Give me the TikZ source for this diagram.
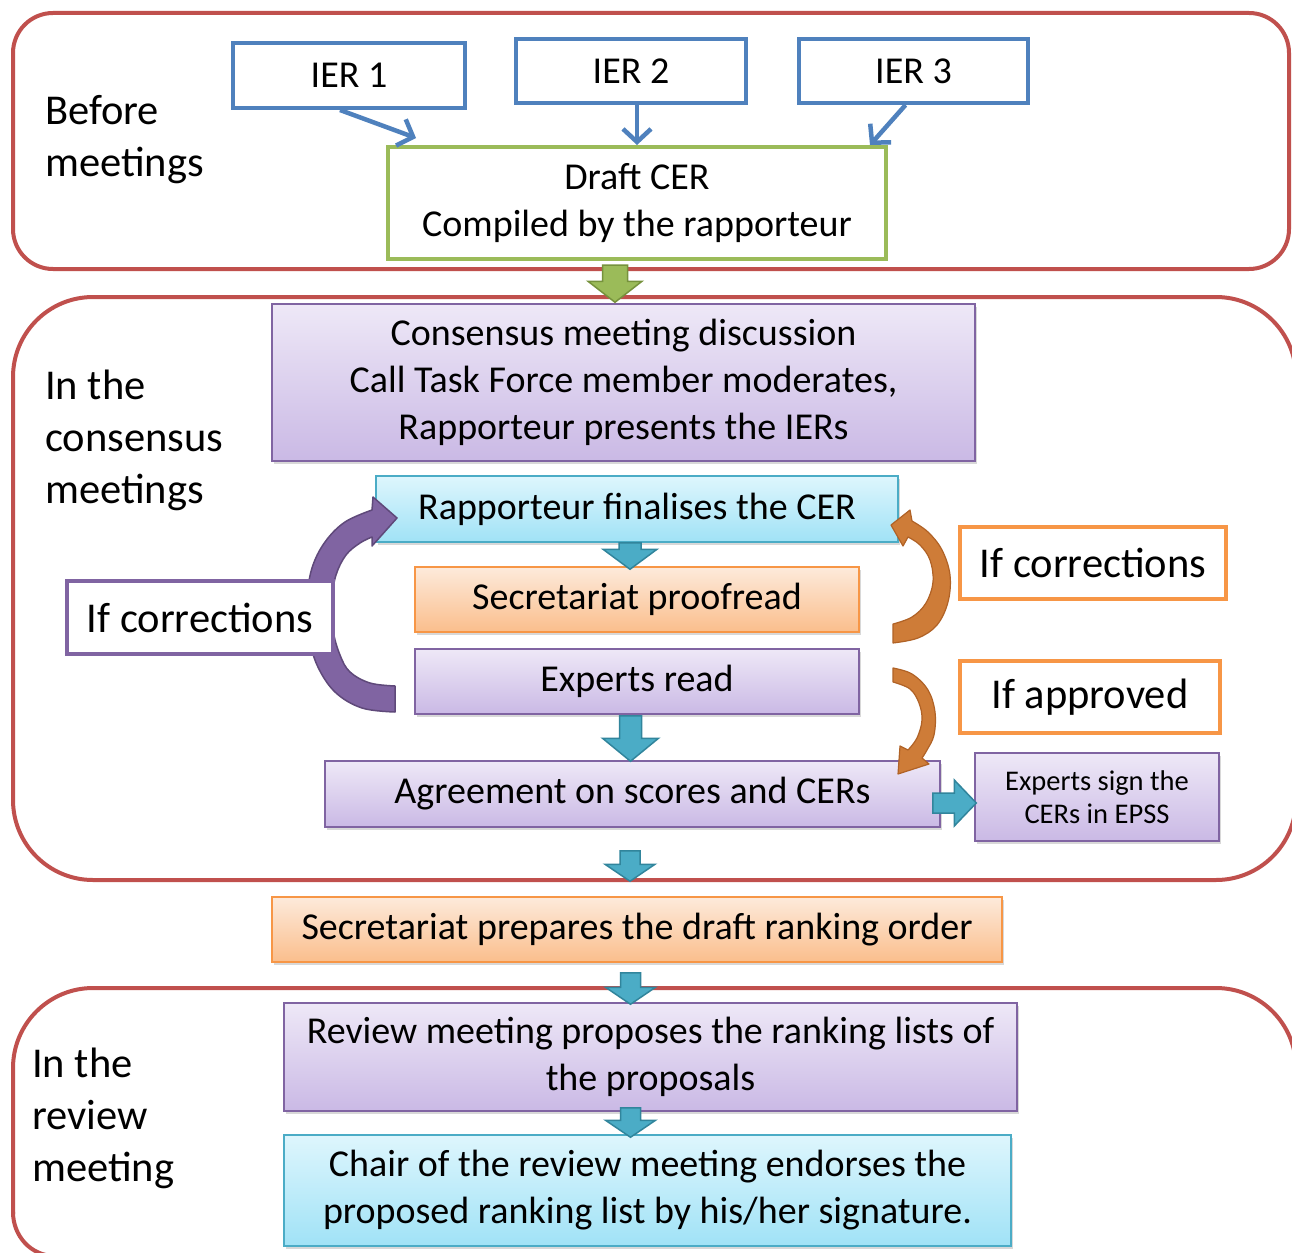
\documentclass[tikz,border=0pt]{standalone}
\usepackage{fontspec}
\setmainfont{Carlito}
\usetikzlibrary{calc,shadows,arrows.meta}
\definecolor{regred}{RGB}{192,80,77}
\definecolor{ierblue}{RGB}{79,129,189}
\definecolor{drgreen}{RGB}{155,187,89}
\definecolor{drgreendk}{RGB}{118,146,60}
\definecolor{purpborder}{RGB}{128,100,162}
\definecolor{purptop}{RGB}{238,232,247}
\definecolor{purpbot}{RGB}{202,185,229}
\definecolor{bluborder}{RGB}{75,172,198}
\definecolor{blutop}{RGB}{222,246,253}
\definecolor{blubot}{RGB}{160,226,246}
\definecolor{orborder}{RGB}{247,150,70}
\definecolor{ortop}{RGB}{253,234,219}
\definecolor{orbot}{RGB}{250,190,140}
\definecolor{tealfill}{RGB}{75,172,198}
\definecolor{tealdk}{RGB}{49,133,156}
\definecolor{parcfill}{RGB}{128,100,162}
\definecolor{parcdk}{RGB}{95,73,122}
\definecolor{oarcfill}{RGB}{206,124,56}
\definecolor{oarcdk}{RGB}{176,98,38}
\newcommand\bxf{\fontsize{38}{47}\selectfont}
\newcommand\lblf{\fontsize{42.5}{52}\selectfont}
\newcommand\ifboxf{\fontsize{42.5}{50}\selectfont}
\newcommand\sgf{\fontsize{28.5}{33}\selectfont}
\newcommand\vblk[6]{%
 \filldraw[#1] let \p1=#2, \p2=#3 in (\x2-#4pt,\y1) -- (\x2+#4pt,\y1) -- (\x2+#4pt,\y2+#6pt) -- (\x2+#5pt,\y2+#6pt) -- (\x2,\y2) -- (\x2-#5pt,\y2+#6pt) -- (\x2-#4pt,\y2+#6pt) -- cycle;}
\newcommand\hblk[6]{%
 \filldraw[#1] let \p1=#2, \p2=#3 in (\x1,\y2+#4pt) -- (\x2-#6pt,\y2+#4pt) -- (\x2-#6pt,\y2+#5pt) -- (\x2,\y2) -- (\x2-#6pt,\y2-#5pt) -- (\x2-#6pt,\y2-#4pt) -- (\x1,\y2-#4pt) -- cycle;}
\begin{document}
\begin{tikzpicture}[x=1pt,y=-1pt,
  region/.style={draw=regred, line width=4pt},
  box/.style={draw, line width=1.5pt, inner sep=0pt, align=center, font=\bxf},
  shad/.style={drop shadow={shadow xshift=2pt,shadow yshift=-3pt,opacity=0.3}},
  purp/.style={box, shad, draw=purpborder, top color=purptop, bottom color=purpbot},
  blu/.style={box, shad, draw=bluborder, top color=blutop, bottom color=blubot},
  orng/.style={box, shad, draw=orborder, top color=ortop, bottom color=orbot},
  ierbox/.style={draw=ierblue, line width=4pt, fill=white, inner sep=0pt, font=\bxf, minimum height=64pt},
  draftbox/.style={draw=drgreen, line width=4pt, fill=white, inner sep=0pt, align=center, font=\bxf},
  ifbox/.style={line width=4pt, fill=white, inner sep=0pt, font=\ifboxf},
  lbl/.style={anchor=west, align=left, inner sep=0pt, font=\lblf},
  ierarrow/.style={draw=ierblue, line width=4.5pt, -{Straight Barb[length=13pt,width=28pt]}},
  tealarr/.style={fill=tealfill, draw=tealdk, line width=1.5pt, line join=miter},
  greenarr/.style={fill=drgreen, draw=drgreendk, line width=1.5pt},
  parc/.style={fill=parcfill, draw=parcdk, line width=1.5pt, line join=round},
  oarc/.style={fill=oarcfill, draw=oarcdk, line width=1.2pt, line join=round}
]
\useasboundingbox (0,0) rectangle (1292,1252);
\fill[white] (0,0) rectangle (1292,1252);

% regions
\draw[region, rounded corners=40pt] (13,13) rectangle (1289,269);
\draw[region, rounded corners=80pt] (13,297) rectangle (1296,880);
\draw[region, rounded corners=80pt] (1296,1256) -- (1296,988) -- (13,988) -- (13,1214);
\draw[region] (13,1212) .. controls (13,1236) and (31,1256) .. (55,1256) -- (1296,1256);

% region labels
\node[lbl] (lab1) at (45,140) {Before\\meetings};
\node[lbl] (lab2) at (45,440) {In the\\consensus\\meetings};
\node[lbl] (lab3) at (32,1118) {In the\\review\\meeting};

% top boxes
\node[ierbox, minimum width=232pt, minimum height=65pt] (ier1) at (349,75.5) {IER 1};
\node[ierbox, minimum width=230pt] (ier2) at (631,71) {IER 2};
\node[ierbox, minimum width=229pt] (ier3) at (913.5,71) {IER 3};
\node[draftbox, minimum width=498pt, minimum height=112pt] (draft) at (637,203) {Draft CER\\Compiled by the rapporteur};

\draw[ierarrow] ([xshift=-9pt]ier1.south) -- ($(draft.north west)+(30,-7)$);
\draw[ierarrow] (ier2.south -| draft.north) -- (draft.north);
\draw[ierarrow] ([xshift=-8pt]ier3.south) -- ($(draft.north east)+(-18,0)$);

% process boxes
\node[purp, minimum width=703pt, minimum height=157pt] (cons) at (623.5,382.5)
  {Consensus meeting discussion\\Call Task Force member moderates,\\Rapporteur presents the IERs};
\node[blu, minimum width=522pt, minimum height=66pt] (rap) at (637,509) {Rapporteur finalises the CER};
\node[orng, minimum width=444pt, minimum height=65pt] (sec) at (637,599.5) {Secretariat proofread};
\node[purp, minimum width=444pt, minimum height=65pt] (exp) at (637,681.5) {Experts read};
\node[purp, minimum width=615pt, minimum height=66pt] (agr) at (632.5,794) {Agreement on scores and CERs};
\node[purp, minimum width=244pt, minimum height=88pt, font=\sgf] (sign) at (1097,797) {Experts sign the\\CERs in EPSS};
\node[orng, minimum width=730pt, minimum height=65pt] (prep) at (637,929.5) {Secretariat prepares the draft ranking order};
\node[purp, minimum width=733pt, minimum height=108pt] (rev) at (650.5,1057) {Review meeting proposes the ranking lists of\\the proposals};
\node[blu, minimum width=727pt, minimum height=111pt] (chair) at (647.5,1190.5) {Chair of the review meeting endorses the\\proposed ranking list by his/her signature.};

% purple loop arrow
\filldraw[parc] (372,510) -- plot[smooth, tension=0.6] coordinates {(372,510) (345,522) (325,542) (312,568) (307,600) (309,635) (317,665) (335,692) (362,708) (395,712)}
  -- (395,686) -- plot[smooth, tension=0.6] coordinates {(395,686) (370,683) (350,672) (340,655) (333,630) (332,600) (336,575) (346,555) (360,543) (372,537)}
  -- (372,546) -- (397,518) -- (373,497) -- cycle;

% orange upper loop arrow
\filldraw[oarc] (912,521) -- plot[smooth, tension=0.6] coordinates {(912,521) (928,532) (942,550) (950,575) (948,602) (937,625) (918,638) (893,643)}
  -- (893,624) -- plot[smooth, tension=0.6] coordinates {(893,624) (912,617) (926,603) (933,582) (930,560) (920,545) (908,537)}
  -- (903,546) -- (891,525) -- (910,510) -- cycle;

% orange lower arrow
\filldraw[oarc] (893,668) -- plot[smooth, tension=0.6] coordinates {(893,668) (912,674) (928,690) (935,712) (934,735) (927,750) (922,758)}
  -- (929,764) -- (898,774) -- (900,746) -- plot[smooth, tension=0.6] coordinates {(908,750) (917,738) (922,720) (919,703) (910,689) (893,682)}
  -- cycle;

% label boxes
\node[ifbox, draw=purpborder, minimum width=266pt, minimum height=73pt] (ifcl) at (200,617.5) {If corrections};
\node[ifbox, draw=orborder, minimum width=266pt, minimum height=72pt] (ifcr) at (1093,563) {If corrections};
\node[ifbox, draw=orborder, minimum width=260pt, minimum height=72pt] (ifa) at (1090,697) {If approved};

% block arrows
\vblk{greenarr}{($(draft.south)+(-22,4)$)}{($(cons.north)+(-8.5,-1)$)}{12.5}{27}{21}
\vblk{tealarr}{($(rap.south)+(-7,0)$)}{($(sec.north)+(-7,3)$)}{11}{27}{20}
\vblk{tealarr}{($(exp.south)+(-7,1)$)}{($(agr.north)+(-2,1)$)}{11}{28}{23}
\hblk{tealarr}{($(agr.east)+(-8,9)$)}{($(sign.west)+(2,6)$)}{10}{23}{22}
\vblk{tealarr}{($(agr.south)+(-2,23)$)}{($(prep.north)+(-7,-15)$)}{10}{25}{17}
\vblk{tealarr}{($(prep.south)+(-7,10)$)}{($(rev.north)+(-20,2)$)}{10}{25}{17}
\vblk{tealarr}{($(rev.south)+(-20,-4)$)}{($(chair.north)+(-17,3)$)}{10}{25}{17}
\end{tikzpicture}
\end{document}
